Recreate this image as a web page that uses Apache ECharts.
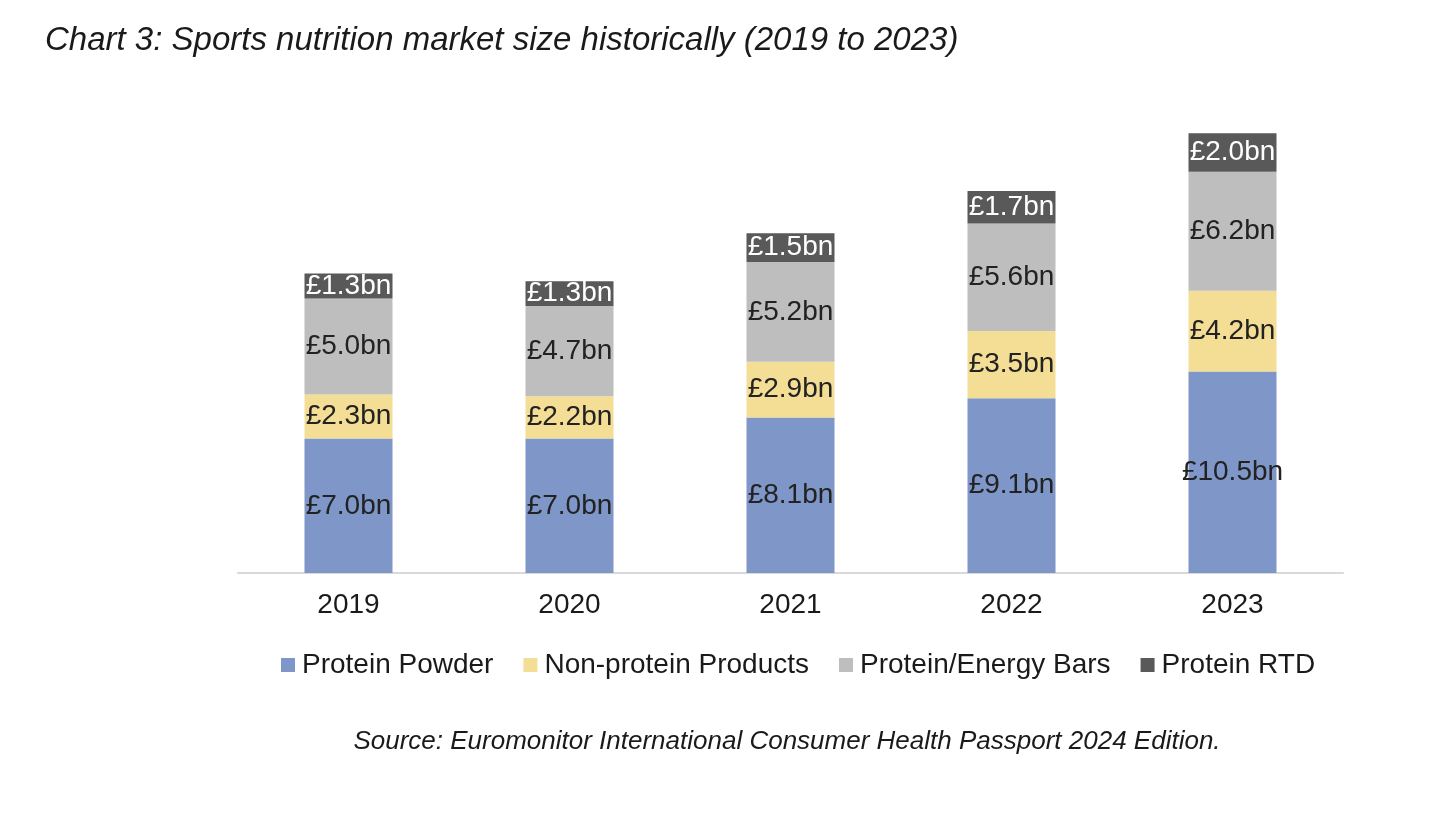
<!doctype html>
<html lang="en">
<head>
    <meta charset="UTF-8">
    <title>Sports nutrition market size</title>
    <style>
        html, body { margin: 0; padding: 0; background: #fff; }
        #chart { width: 1456px; height: 816px; }
    </style>
</head>
<body>
    <div id="chart"></div>
    <script src="https://cdn.jsdelivr.net/npm/echarts@6/dist/echarts.min.js"></script>
    <script>
        var years = ['2019', '2020', '2021', '2022', '2023'];
        var proteinPowder = [7.0, 7.0, 8.1, 9.1, 10.5];
        var nonProtein = [2.3, 2.2, 2.9, 3.5, 4.2];
        var bars = [5.0, 4.7, 5.2, 5.6, 6.2];
        var rtd = [1.3, 1.3, 1.5, 1.7, 2.0];

        var font = 'Liberation Sans, Arial, sans-serif';

        function seg(name, data, color, textColor) {
            return {
                name: name,
                type: 'bar',
                stack: 'total',
                barWidth: 88,
                data: data,
                itemStyle: { color: color },
                label: {
                    show: true,
                    position: 'inside',
                    color: textColor,
                    fontFamily: font,
                    fontSize: 28,
                    formatter: function (p) { return '£' + p.value.toFixed(1) + 'bn'; }
                }
            };
        }

        var chart = echarts.init(document.getElementById('chart'));
        chart.setOption({
            animation: false,
            title: [{
                text: 'Chart 3: Sports nutrition market size historically (2019 to 2023)',
                left: 40, top: 19,
                textStyle: { fontFamily: font, fontStyle: 'italic', fontWeight: 'normal', fontSize: 33, color: '#1a1a1a' }
            }, {
                text: 'Source: Euromonitor International Consumer Health Passport 2024 Edition.',
                left: 782, top: 724, textAlign: 'center',
                textStyle: { fontFamily: font, fontStyle: 'italic', fontWeight: 'normal', fontSize: 26, color: '#1a1a1a' }
            }],
            legend: {
                top: 646, left: 276,
                icon: 'rect', itemWidth: 14, itemHeight: 14, itemGap: 30,
                textStyle: { fontFamily: font, fontSize: 28, color: '#1a1a1a', padding: [0, 0, 0, 2] }
            },
            grid: { left: 238, right: 113, top: 93, bottom: 243 },
            xAxis: {
                type: 'category',
                data: years,
                axisLine: { lineStyle: { color: '#d9d9d9', width: 2 } },
                axisTick: { show: false },
                axisLabel: { fontFamily: font, fontSize: 28, color: '#1a1a1a', margin: 18 }
            },
            yAxis: { type: 'value', min: 0, max: 25, show: false, splitLine: { show: false } },
            series: [
                seg('Protein Powder', proteinPowder, '#7f96c8', '#222'),
                seg('Non-protein Products', nonProtein, '#f4de95', '#222'),
                seg('Protein/Energy Bars', bars, '#bebebe', '#222'),
                seg('Protein RTD', rtd, '#595959', '#fff')
            ]
        });
    </script>
</body>
</html>
